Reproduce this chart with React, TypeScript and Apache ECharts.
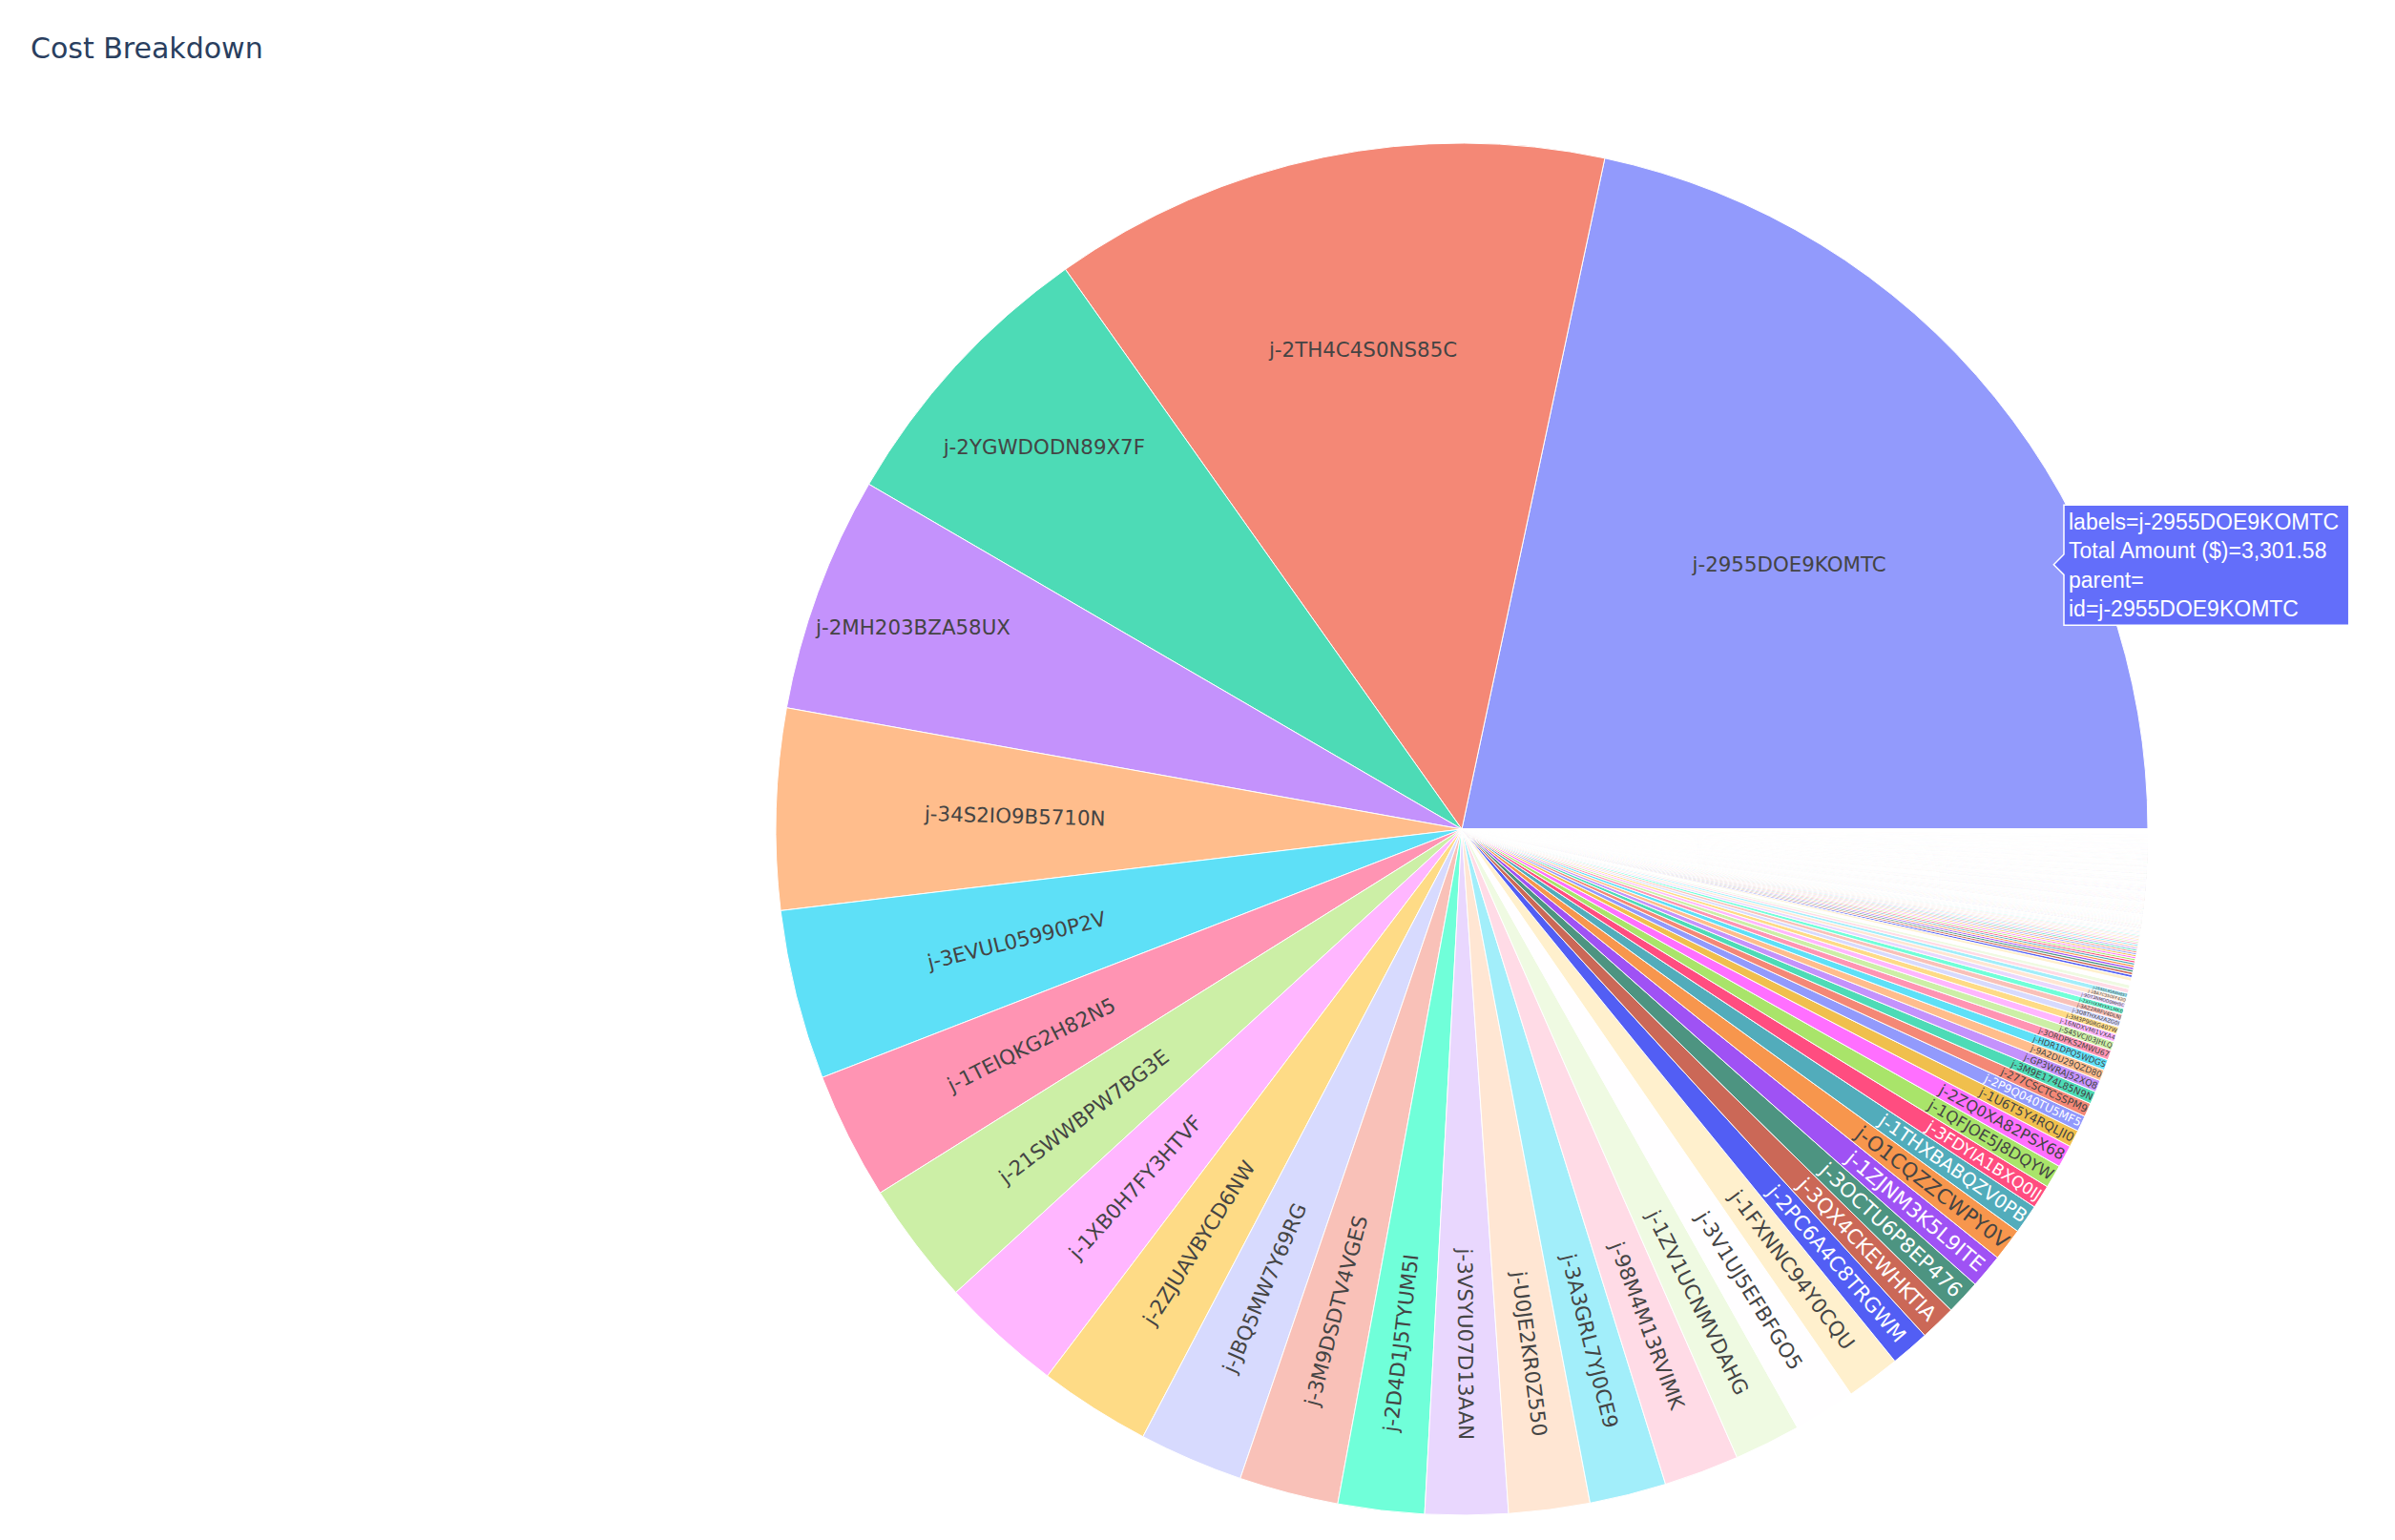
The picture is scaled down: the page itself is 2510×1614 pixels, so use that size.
import React, { useEffect, useRef } from 'react';
import * as echarts from 'echarts';

// ---------------- data ----------------
const TITLE = 'Cost Breakdown';
const VALUE_NAME = 'Total Amount ($)';

const jobIds = [
  'j-2955DOE9KOMTC', 'j-2TH4C4S0NS85C', 'j-2YGWDODN89X7F', 'j-2MH203BZA58UX', 'j-34S2IO9B5710N',
  'j-3EVUL05990P2V', 'j-1TEIQKG2H82N5', 'j-21SWWBPW7BG3E', 'j-1XB0H7FY3HTVF', 'j-2ZJUAVBYCD6NW',
  'j-JBQ5MW7Y69RG', 'j-3M9DSDTV4VGES', 'j-2D4D1J5TYUM5I', 'j-3VSYU07D13AAN', 'j-U0JE2KR0Z550',
  'j-3A3GRL7YJ0CE9', 'j-98M4M13RVIMK', 'j-1ZV1UCNMVDAHG', 'j-3V1UJ5EFBFGO5', 'j-1FXNNC94Y0CQU',
  'j-2PC6A4C8TRGWM', 'j-3QX4CKEWHKTIA', 'j-3OCTU6P8EP476', 'j-1ZJNM3K5L9ITE', 'j-O1CQZZCWPY0V',
  'j-1THXBABQZV0PB', 'j-3FDYIA1BXQ0IJ', 'j-1QFJOE5J8DQYW', 'j-2ZQ0XA82PSX68', 'j-1U6T5Y4RQLJI0',
  'j-2P9Q040TU5MF5', 'j-277CSCTCSSPM9', 'j-3M9E174L85N9N', 'j-GP3WRAJ52XQ8', 'j-9A2DU29QZD80',
  'j-HDR1DPQ5WDGS', 'j-3ORDPKS2MWU67', 'j-S45VCJ03JHLQ', 'j-16NDXVMI1VXA4', 'j-3M3P90RG407W',
  'j-3Q8THXA2AZG0I', 'j-3AZ2RRFV4DLNJ', 'j-2XFHXMYKKLMK0', 'j-9OT3NMOD0MH5C', 'j-1BA7C35OFF42Q',
  'j-2E5DL95R8H8ST', 'j-7R61MS6ZE7T', 'j-3CWWXF6LLQ24', 'j-19SLC5U0WY6ZD', 'j-18KYIADSR0RB5Q',
];

const jobCosts = [
  3301.58, 2004.4, 1037.8, 846.8, 720.6, 609.7, 457.3, 443.1, 438.5, 401.0,
  374.7, 356.5, 309.9, 297.2, 290.9, 275.2, 270.1, 238.4, 223.6, 193.9,
  139.7, 129.1, 124.9, 122.8, 117.7, 104.6, 84.7, 83.4, 80.4, 61.4,
  56.6, 49.6, 45.4, 42.7, 40.1, 38.4, 35.2, 32.0, 28.2, 26.7,
  24.1, 22.9, 21.3, 19.8, 18.6, 17.0, 16.0, 14.4, 13.9, 12.9,
];

// small jobs whose labels are unreadable in the reference
const smallJobCosts = [
  9.6, 9.2, 8.9, 8.6, 8.3, 8.0, 7.7, 7.4, 7.2, 6.9, 6.7, 6.5, 6.3, 6.1,
  5.9, 5.7, 5.5, 5.3, 5.1, 4.9, 4.7, 4.5, 4.4, 4.3, 4.2, 4.1, 4.0, 3.9,
];

// a long run of very small jobs (thinner than a pixel each)
const tinyJobCosts = [
  1.9, 1.9, 1.9, 1.9, 1.9, 1.9,
  1.8, 1.8, 1.8, 1.8, 1.8, 1.8, 1.8, 1.8,
  1.7, 1.7, 1.7, 1.7, 1.7, 1.7, 1.7, 1.7, 1.7, 1.7,
  1.6, 1.6, 1.6, 1.6, 1.6, 1.6, 1.6, 1.6, 1.6, 1.6,
  1.5, 1.5, 1.5, 1.5, 1.5, 1.5, 1.5, 1.5, 1.5, 1.5, 1.5, 1.5,
  1.4, 1.4, 1.4, 1.4, 1.4, 1.4, 1.4, 1.4, 1.4, 1.4, 1.4, 1.4, 1.4, 1.4,
  1.3, 1.3, 1.3, 1.3, 1.3, 1.3, 1.3, 1.3, 1.3, 1.3, 1.3, 1.3, 1.3, 1.3, 1.3, 1.3,
  1.2, 1.2, 1.2, 1.2, 1.2, 1.2, 1.2, 1.2, 1.2, 1.2, 1.2, 1.2, 1.2, 1.2, 1.2, 1.2, 1.2, 1.2,
  1.1, 1.1, 1.1, 1.1, 1.1, 1.1, 1.1, 1.1, 1.1, 1.1, 1.1, 1.1, 1.1, 1.1, 1.1, 1.1, 1.1, 1.1, 1.1, 1.1,
  1.0, 1.0, 1.0, 1.0, 1.0, 1.0, 1.0, 1.0, 1.0, 1.0, 1.0, 1.0, 1.0, 1.0, 1.0, 1.0, 1.0, 1.0, 1.0, 1.0, 1.0, 1.0, 1.0, 1.0,
  0.9, 0.9, 0.9, 0.9, 0.9, 0.9, 0.9, 0.9, 0.9, 0.9, 0.9, 0.9, 0.9, 0.9, 0.9, 0.9, 0.9, 0.9, 0.9, 0.9, 0.9, 0.9, 0.9, 0.9, 0.9, 0.9, 0.9, 0.9,
  0.8, 0.8, 0.8, 0.8, 0.8, 0.8, 0.8, 0.8, 0.8, 0.8, 0.8, 0.8, 0.8, 0.8, 0.8, 0.8, 0.8, 0.8, 0.8, 0.8, 0.8, 0.8, 0.8, 0.8, 0.8, 0.8, 0.8, 0.8, 0.8, 0.8, 0.8, 0.8,
  0.7, 0.7, 0.7, 0.7, 0.7, 0.7, 0.7, 0.7, 0.7, 0.7, 0.7, 0.7, 0.7, 0.7, 0.7, 0.7, 0.7, 0.7, 0.7, 0.7, 0.7, 0.7, 0.7, 0.7, 0.7, 0.7, 0.7, 0.7, 0.7, 0.7, 0.7, 0.7, 0.7, 0.7, 0.7, 0.7,
  0.6, 0.6, 0.6, 0.6, 0.6, 0.6, 0.6, 0.6, 0.6, 0.6, 0.6, 0.6, 0.6, 0.6, 0.6, 0.6, 0.6, 0.6, 0.6, 0.6, 0.6, 0.6, 0.6, 0.6, 0.6, 0.6, 0.6, 0.6, 0.6, 0.6, 0.6, 0.6, 0.6, 0.6, 0.6, 0.6, 0.6, 0.6, 0.6, 0.6,
  0.5, 0.5, 0.5, 0.5, 0.5, 0.5, 0.5, 0.5, 0.5, 0.5, 0.5, 0.5, 0.5, 0.5, 0.5, 0.5, 0.5, 0.5, 0.5, 0.5, 0.5, 0.5, 0.5, 0.5, 0.5, 0.5, 0.5, 0.5, 0.5, 0.5, 0.5, 0.5, 0.5, 0.5, 0.5, 0.5, 0.5, 0.5, 0.5, 0.5, 0.5, 0.5, 0.5, 0.5,
  0.4, 0.4, 0.4, 0.4, 0.4, 0.4, 0.4, 0.4, 0.4, 0.4, 0.4, 0.4, 0.4, 0.4, 0.4, 0.4, 0.4, 0.4, 0.4, 0.4, 0.4, 0.4, 0.4, 0.4, 0.4, 0.4, 0.4, 0.4, 0.4, 0.4, 0.4, 0.4, 0.4, 0.4, 0.4, 0.4, 0.4, 0.4, 0.4, 0.4, 0.4, 0.4, 0.4, 0.4, 0.4, 0.4, 0.4, 0.4,
  0.3, 0.3, 0.3, 0.3, 0.3, 0.3, 0.3, 0.3, 0.3, 0.3, 0.3, 0.3, 0.3, 0.3, 0.3, 0.3, 0.3, 0.3, 0.3, 0.3, 0.3, 0.3, 0.3, 0.3, 0.3, 0.3, 0.3, 0.3, 0.3, 0.3, 0.3, 0.3, 0.3, 0.3, 0.3, 0.3, 0.3, 0.3, 0.3, 0.3, 0.3, 0.3, 0.3, 0.3, 0.3, 0.3, 0.3, 0.3, 0.3, 0.3,
  0.2, 0.2, 0.2, 0.2, 0.2, 0.2, 0.2, 0.2, 0.2, 0.2, 0.2, 0.2, 0.2, 0.2, 0.2, 0.2, 0.2, 0.2, 0.2, 0.2, 0.2, 0.2, 0.2, 0.2, 0.2, 0.2, 0.2, 0.2, 0.2, 0.2, 0.2, 0.2, 0.2, 0.2, 0.2, 0.2, 0.2, 0.2, 0.2, 0.2, 0.2, 0.2, 0.2, 0.2, 0.2, 0.2, 0.2, 0.2, 0.2, 0.2,
  0.1, 0.1, 0.1, 0.1, 0.1, 0.1, 0.1, 0.1, 0.1, 0.1, 0.1, 0.1, 0.1, 0.1, 0.1, 0.1, 0.1, 0.1, 0.1, 0.1, 0.1, 0.1, 0.1, 0.1, 0.1, 0.1, 0.1, 0.1, 0.1, 0.1, 0.1, 0.1, 0.1, 0.1, 0.1, 0.1, 0.1, 0.1, 0.1, 0.1,
];

// ---------------- styling ----------------
const COLORWAY = ['#636efa', '#EF553B', '#00cc96', '#ab63fa', '#FFA15A', '#19d3f3', '#FF6692', '#B6E880', '#FF97FF', '#FECB52'];
const CX = 1532;
const CY = 869;
const R = 719;
const SCALE = 1.78;
const BASE_FS = 12 * SCALE;
const TEXTPAD = 3 * SCALE;
const LABEL_FONT = 'DejaVu Sans';

function hexToRgb(hex: string): number[] {
  const h = hex.replace('#', '');
  return [0, 2, 4].map((i) => parseInt(h.slice(i, i + 2), 16));
}
function rgbToHsl(c: number[]): number[] {
  const r = c[0] / 255, g = c[1] / 255, b = c[2] / 255;
  const max = Math.max(r, g, b), min = Math.min(r, g, b);
  let h = 0, s = 0;
  const l = (max + min) / 2;
  if (max !== min) {
    const d = max - min;
    s = l > 0.5 ? d / (2 - max - min) : d / (max + min);
    if (max === r) h = (g - b) / d + (g < b ? 6 : 0);
    else if (max === g) h = (b - r) / d + 2;
    else h = (r - g) / d + 4;
    h /= 6;
  }
  return [h, s, l];
}
function hue2rgb(p: number, q: number, t: number) {
  if (t < 0) t += 1;
  if (t > 1) t -= 1;
  if (t < 1 / 6) return p + (q - p) * 6 * t;
  if (t < 1 / 2) return q;
  if (t < 2 / 3) return p + (q - p) * (2 / 3 - t) * 6;
  return p;
}
function hslToRgb(hsl: number[]): number[] {
  const [h, s, l] = hsl;
  if (s === 0) return [l * 255, l * 255, l * 255];
  const q = l < 0.5 ? l * (1 + s) : l + s - l * s;
  const p = 2 * l - q;
  return [hue2rgb(p, q, h + 1 / 3) * 255, hue2rgb(p, q, h) * 255, hue2rgb(p, q, h - 1 / 3) * 255];
}
function extendedColor(i: number): number[] {
  const k = i % 30;
  const base = hexToRgb(COLORWAY[k % 10]);
  const variant = Math.floor(k / 10);
  if (variant === 0) return base;
  const hsl = rgbToHsl(base);
  hsl[2] = Math.min(1, Math.max(0, hsl[2] + (variant === 1 ? 0.2 : -0.2)));
  return hslToRgb(hsl).map((v) => Math.round(v));
}
function toHex(c: number[]) {
  return '#' + c.map((v) => Math.round(Math.min(255, Math.max(0, v))).toString(16).padStart(2, '0')).join('');
}
function leafColor(i: number) {
  const c = extendedColor(i);
  return toHex(c.map((v) => v * 0.7 + 255 * 0.3));
}
function textColor(i: number) {
  if (i === 0) return '#444';
  const c = extendedColor(i);
  const br = (c[0] * 299 + c[1] * 587 + c[2] * 114) / 1000;
  return br < 128 ? '#fff' : '#444';
}

function calcRotate(t: number) {
  return ((t * 180 / Math.PI + 720) % 180) - 90;
}
function calcMaxHalfSize(a: number, halfAngle: number, r: number, ring: number) {
  const q = a + 1 / (2 * Math.tan(halfAngle));
  return r * Math.min(1 / (Math.sqrt(q * q + 0.5) + q), ring / (Math.sqrt(a * a + ring / 2) + a));
}

export default function App() {
  const ref = useRef<HTMLDivElement>(null);

  useEffect(() => {
    const el = ref.current;
    if (!el) return;
    const chart = echarts.init(el, undefined, { renderer: 'svg' });

    const names: string[] = [
      ...jobIds,
      ...smallJobCosts.map(() => ''),
      ...tinyJobCosts.map(() => ''),
    ];
    const values: number[] = [...jobCosts, ...smallJobCosts, ...tinyJobCosts];
    const total = values.reduce((s, v) => s + v, 0);

    const canvas = document.createElement('canvas');
    const ctx = canvas.getContext('2d') as CanvasRenderingContext2D;
    ctx.font = `${BASE_FS}px "${LABEL_FONT}"`;
    const textH = 1.164 * BASE_FS;

    type LabelPlace = { x: number; y: number; rotate: number; fontSize: number; show: boolean };
    const places: LabelPlace[] = [];
    let acc = 0;
    values.forEach((v, i) => {
      const a0 = (acc / total) * Math.PI * 2;
      acc += v;
      const a1 = (acc / total) * Math.PI * 2;
      const mid = (a0 + a1) / 2;
      const half = Math.min((a1 - a0) / 2, Math.PI / 2);
      const name = names[i];
      if (!name) {
        places.push({ x: 0, y: 0, rotate: 0, fontSize: 0, show: false });
        return;
      }
      const w = ctx.measureText(name).width;
      const h = textH;
      const rIns = Math.max(0, Math.min(1 / (1 + 1 / Math.sin(half)), 0.5));
      const hor = { scale: (rIns * R * 2) / Math.hypot(w, h), rCenter: 1 - rIns, rotate: 0 };
      let best = hor;
      if (hor.scale < 1) {
        const tMid = Math.PI / 2 - mid;
        const rr = Math.max(0, R - 2 * TEXTPAD);
        let a = w / h;
        let s = calcMaxHalfSize(a, half, rr, 1);
        const rad = { scale: (s * 2) / h, rCenter: Math.cos(s / rr) - a * (s / rr), rotate: calcRotate(tMid) };
        a = h / w;
        s = calcMaxHalfSize(a, half, rr, 1);
        const tan = { scale: (s * 2) / w, rCenter: Math.cos(s / rr) - a * (s / rr), rotate: calcRotate(tMid + Math.PI / 2) };
        let maxS = 0;
        [hor, rad, tan].forEach((t) => {
          if (t.scale > maxS) {
            maxS = t.scale;
            best = t;
          }
        });
      }
      const fs = BASE_FS * Math.min(1, best.scale);
      places.push({
        x: CX + best.rCenter * R * Math.cos(mid),
        y: CY - best.rCenter * R * Math.sin(mid),
        rotate: -best.rotate,
        fontSize: fs,
        show: fs >= 4,
      });
    });

    const data = values.map((v, i) => ({
      name: names[i],
      value: v,
      itemStyle: { color: leafColor(i) },
      label: {
        show: places[i].show,
        fontSize: places[i].fontSize,
        color: textColor(i),
      },
    }));

    const fmt = (n: number) => n.toLocaleString('en-US', { minimumFractionDigits: 2, maximumFractionDigits: 2 });
    const hoverText = [
      `labels=${jobIds[0]}`,
      `${VALUE_NAME}=${fmt(jobCosts[0])}`,
      'parent=',
      `id=${jobIds[0]}`,
    ].join('\n');

    const bx = 2163, by = 529.3, bw = 298.7, bh = 126, tipX = 2152.3, tipY = 591.7, arrow = 10.7;

    chart.setOption({
      animation: false,
      backgroundColor: '#ffffff',
      title: {
        text: TITLE,
        left: 27,
        top: 30,
        textStyle: { fontFamily: LABEL_FONT, fontSize: 30, fontWeight: 'normal', color: '#2a3f5f' },
      },
      series: [
        {
          type: 'pie',
          center: [CX, CY],
          radius: [0, R],
          startAngle: 0,
          clockwise: false,
          silent: true,
          avoidLabelOverlap: false,
          emphasis: { disabled: true },
          itemStyle: { borderColor: '#ffffff', borderWidth: 1 },
          label: {
            show: true,
            position: 'inside',
            formatter: '{b}',
            fontFamily: LABEL_FONT,
            fontSize: BASE_FS,
          },
          labelLine: { show: false },
          labelLayout: (params: any) => {
            const p = places[params.dataIndex];
            if (!p || !p.show) return {};
            return { x: p.x, y: p.y, rotate: p.rotate, align: 'center', verticalAlign: 'middle', fontSize: p.fontSize };
          },
          data,
        },
      ],
      graphic: [
        {
          type: 'polygon',
          silent: true,
          z: 100,
          shape: {
            points: [
              [tipX, tipY],
              [bx, tipY - arrow],
              [bx, by],
              [bx + bw, by],
              [bx + bw, by + bh],
              [bx, by + bh],
              [bx, tipY + arrow],
            ],
          },
          style: { fill: '#636efa', stroke: '#ffffff', lineWidth: 1.5 },
        },
        {
          type: 'text',
          silent: true,
          z: 101,
          x: 2168,
          y: 532,
          style: {
            text: hoverText,
            fill: '#ffffff',
            font: '23px "Liberation Sans", Arial, sans-serif',
            lineHeight: 30.3,
            verticalAlign: 'top',
            align: 'left',
          },
        },
      ],
    });

    return () => chart.dispose();
  }, []);

  return (
    <div
      ref={ref}
      style={{ position: 'fixed', left: 0, top: 0, width: 2510, height: 1614, background: '#fff' }}
    />
  );
}
